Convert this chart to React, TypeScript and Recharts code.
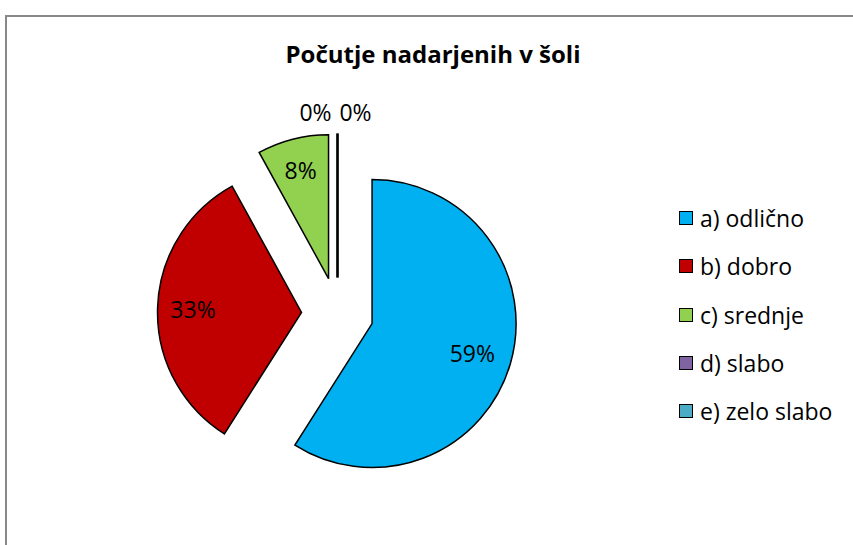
import { PieChart, Pie, Cell, Legend, Sector } from "recharts";

const categories = ["a) odlično", "b) dobro", "c) srednje", "d) slabo", "e) zelo slabo"];
const shares = [59, 33, 8, 0, 0];
const colors = ["#00B0F0", "#C00000", "#92D050", "#8064A2", "#4BACC6"];

const data = categories.map((name, i) => ({ name, value: shares[i] }));

const RADIAN = Math.PI / 180;
const EXPLODE = 36;
const FONT = "'Open Sans', sans-serif";

// offset along a polar angle (recharts angles: counter-clockwise from 3 o'clock)
function polar(angle: number, dist: number) {
  return { dx: dist * Math.cos(-angle * RADIAN), dy: dist * Math.sin(-angle * RADIAN) };
}

const ExplodedSector = (props: any) => {
  const { cx, cy, midAngle, outerRadius, startAngle, endAngle } = props;
  const { dx, dy } = polar(midAngle, EXPLODE);
  if (startAngle === endAngle) {
    // zero slice: excel still draws its radius line
    const edge = polar(startAngle, outerRadius);
    return (
      <path
        d={`M${cx + dx},${cy + dy}L${cx + dx + edge.dx},${cy + dy + edge.dy}`}
        stroke="#000"
        strokeWidth={2.2}
        fill="none"
      />
    );
  }
  return <Sector {...props} cx={cx + dx} cy={cy + dy} />;
};

const renderLabel = (props: any) => {
  const { cx, cy, midAngle, outerRadius, value, percent, index } = props;
  const center = polar(midAngle, EXPLODE);
  // smaller slices push their label a bit further out (best fit)
  let dist = outerRadius * (0.79 - 0.11 * percent);
  let nudge = 0;
  if (value === 0) {
    dist = outerRadius + 22;
    const k = shares.slice(0, index).filter((v) => v === 0).length;
    nudge = -22 + 40 * k;
  }
  const pos = polar(midAngle, dist);
  return (
    <text
      x={cx + center.dx + pos.dx + nudge}
      y={cy + center.dy + pos.dy}
      textAnchor="middle"
      dominantBaseline="central"
      fill="#000"
      fontSize={23}
      fontFamily={FONT}
    >
      {`${Math.round(percent * 100)}%`}
    </text>
  );
};

const LegendList = ({ payload }: any) => (
  <div style={{ fontFamily: FONT, fontSize: 23, color: "#000" }}>
    {(payload || []).map((entry: any) => (
      <div
        key={entry.value}
        style={{ display: "flex", alignItems: "center", height: 48.3 }}
      >
        <span
          style={{
            width: 12,
            height: 12,
            border: "1.5px solid #000",
            background: colors[categories.indexOf(entry.value)],
            marginRight: 7,
          }}
        />
        <span>{entry.value}</span>
      </div>
    ))}
  </div>
);

export default function App() {
  return (
    <div style={{ position: "fixed", inset: 0, overflow: "hidden", background: "#fff" }}>
      <div
        style={{
          position: "absolute",
          left: 5,
          top: 15,
          width: 896,
          height: 596,
          border: "2px solid #888",
        }}
      >
        <PieChart width={896} height={596} margin={{ top: 0, right: 0, bottom: 0, left: 0 }}>
          <Pie
            data={data}
            dataKey="value"
            nameKey="name"
            cx={330.5}
            cy={296.5}
            outerRadius={144}
            startAngle={90}
            endAngle={-270}
            stroke="#000"
            strokeWidth={1.5}
            shape={ExplodedSector}
            activeShape={ExplodedSector}
            label={renderLabel}
            labelLine={false}
            isAnimationActive={false}
          >
            {data.map((d, i) => (
              <Cell key={d.name} fill={colors[i]} />
            ))}
          </Pie>
          <Legend
            layout="vertical"
            content={<LegendList />}
            wrapperStyle={{ left: 672, top: 177, width: 200 }}
          />
        </PieChart>
      </div>
      <div
        style={{
          position: "absolute",
          left: 233,
          top: 38,
          width: 400,
          textAlign: "center",
          fontFamily: FONT,
          fontWeight: "bold",
          fontSize: 24,
          lineHeight: "32px",
          color: "#000",
        }}
      >
        Počutje nadarjenih v šoli
      </div>
    </div>
  );
}
